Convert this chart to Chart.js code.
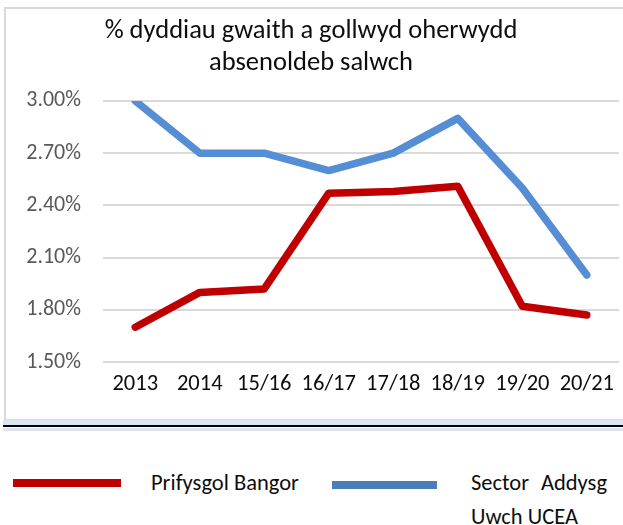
<!DOCTYPE html>
<html>
<head>
<meta charset="utf-8">
<script src="https://cdn.jsdelivr.net/npm/chart.js"></script>
<style>
  body { margin: 0; background: #fff; font-family: Carlito, Lato, sans-serif; }
  #page { position: relative; width: 623px; height: 525px; overflow: hidden; }
  #box { position: absolute; left: 4px; top: 7px; width: 700px; height: 410px; border: 2px solid #d9d9d9; }
  #chartWrap { position: absolute; left: 0; top: 0; width: 623px; height: 418px; }
  .sep { position: absolute; left: 3px; width: 640px; }
  .legend-line { position: absolute; height: 8px; }
  .legend-text { position: absolute; font-size: 22.5px; color: #0d0d0d; line-height: 34px; text-align: justify; }
</style>
</head>
<body>
<div id="page">
  <div id="box"></div>
  <div id="chartWrap"><canvas id="lineChart" width="623" height="418"></canvas></div>
  <div class="sep" style="top:420px;height:5px;background:#dce6f2;"></div>
  <div class="sep" style="top:425px;height:2px;background:#000;"></div>
  <div class="sep" style="top:428px;height:3px;background:#dce6f2;"></div>
  <div id="legend"></div>
</div>
<script>
const categories = ['2013', '2014', '15/16', '16/17', '17/18', '18/19', '19/20', '20/21'];
const seriesNames = ['Prifysgol Bangor', 'Sector Addysg Uwch UCEA'];
const bangorValues = [1.70, 1.90, 1.92, 2.47, 2.48, 2.51, 1.82, 1.77];
const sectorValues = [3.00, 2.70, 2.70, 2.60, 2.70, 2.90, 2.50, 2.00];
const yTicks = [1.5, 1.8, 2.1, 2.4, 2.7, 3.0];
const titleLines = ['% dyddiau gwaith a gollwyd oherwydd', 'absenoldeb salwch'];

const fontFamily = 'Carlito, Lato, sans-serif';
const lineColors = ['#c00000', '#558ed5'];
const legendColors = ['#c00000', '#4a7ebb'];

const ctx = document.getElementById('lineChart');

new Chart(ctx, {
  type: 'line',
  data: {
    labels: categories,
    datasets: [
      { label: seriesNames[0], data: bangorValues, borderColor: lineColors[0] },
      { label: seriesNames[1], data: sectorValues, borderColor: lineColors[1] }
    ].map(d => Object.assign(d, {
      borderWidth: 7.5,
      pointRadius: 0,
      tension: 0,
      fill: false,
      borderCapStyle: 'round',
      borderJoinStyle: 'round'
    }))
  },
  options: {
    responsive: false,
    animation: false,
    layout: { padding: { left: 0, right: 1, top: 0, bottom: 0 } },
    plugins: {
      legend: { display: false },
      tooltip: { enabled: false },
      title: {
        display: true,
        text: titleLines,
        color: '#0d0d0d',
        font: { family: fontFamily, size: 26.5, weight: 'normal', lineHeight: 1.22 },
        padding: { top: 15, bottom: 21.3 }
      }
    },
    scales: {
      x: {
        offset: true,
        grid: { display: false, drawTicks: false },
        border: { display: false },
        ticks: {
          color: '#0d0d0d',
          padding: 9,
          maxRotation: 0,
          autoSkip: false,
          font: { family: fontFamily, size: 22.5 }
        },
        afterFit: s => { s.height = 56; }
      },
      y: {
        min: 1.5,
        max: 3.0,
        afterBuildTicks: s => { s.ticks = yTicks.map(v => ({ value: v })); },
        grid: { color: '#d9d9d9', lineWidth: 2, drawTicks: false },
        border: { display: false },
        ticks: {
          color: '#595959',
          padding: 22,
          font: { family: fontFamily, size: 22 },
          callback: v => v.toFixed(2) + '%'
        },
        afterFit: s => { s.width = 103; }
      }
    }
  }
});

// legend below the chart box
const legend = document.getElementById('legend');
const legendLayout = [
  { lineX: 13, lineW: 108, lineY: 479, textX: 151, textW: 175 },
  { lineX: 332, lineW: 105, lineY: 481, textX: 471, textW: 136 }
];
seriesNames.forEach((name, i) => {
  const p = legendLayout[i];
  const ln = document.createElement('div');
  ln.className = 'legend-line';
  ln.style.cssText = `left:${p.lineX}px;top:${p.lineY}px;width:${p.lineW}px;background:${legendColors[i]};`;
  legend.appendChild(ln);
  const tx = document.createElement('div');
  tx.className = 'legend-text';
  tx.style.cssText = `left:${p.textX}px;top:466px;width:${p.textW}px;`;
  tx.textContent = name;
  legend.appendChild(tx);
});
</script>
</body>
</html>
